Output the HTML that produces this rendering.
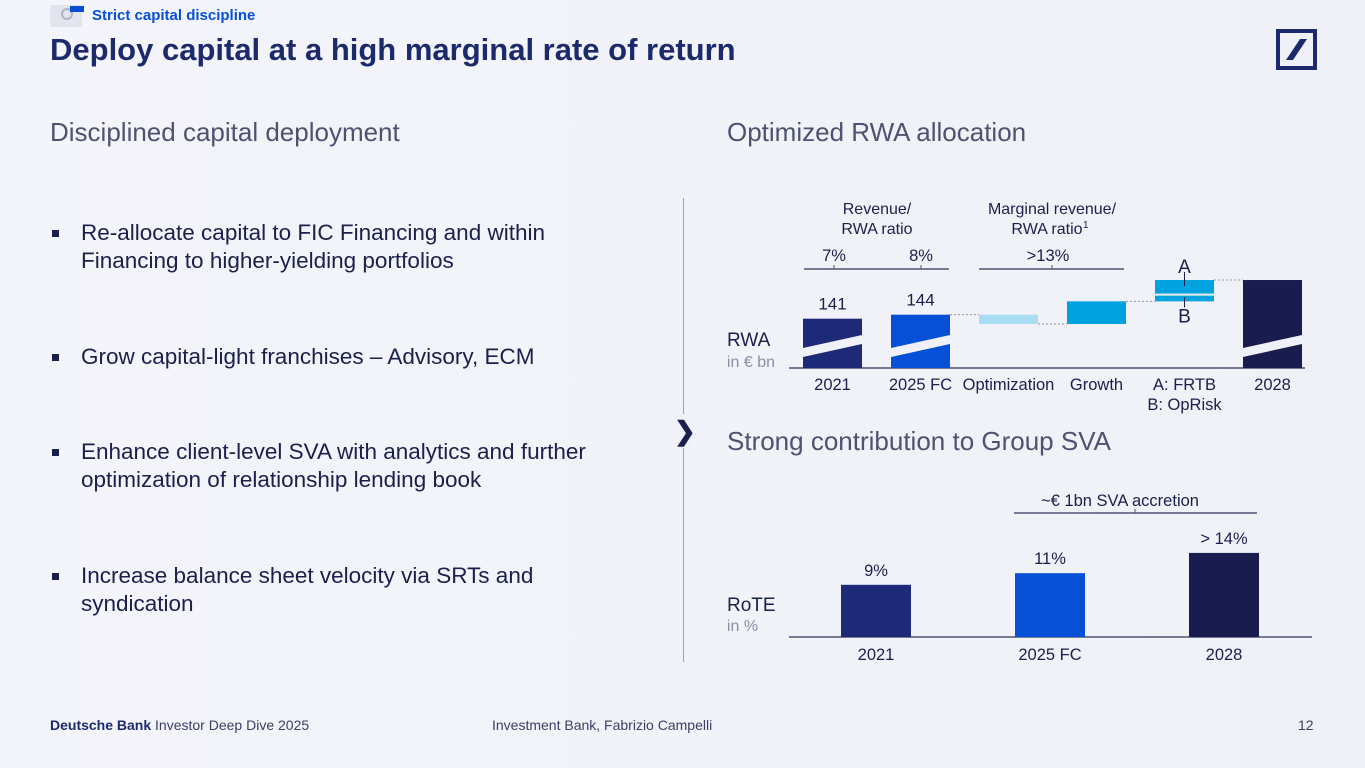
<!DOCTYPE html>
<html><head><meta charset="utf-8">
<style>
*{margin:0;padding:0;box-sizing:border-box}
body{width:1365px;height:768px;overflow:hidden;background:linear-gradient(90deg,#f4f5fa,#eff1f7);font-family:"Liberation Sans",sans-serif;color:#1b1f4b;position:relative}
.abs{position:absolute}
.bul{position:absolute;left:52px;font-size:22.5px;line-height:28px;color:#1b1f4b}
.bul .sq{position:absolute;left:0;top:11px;width:7px;height:7px;background:#1b1f4b}
.bul .t{position:absolute;left:29px;width:590px;white-space:nowrap}
.h2{position:absolute;font-size:26px;font-weight:300;color:#4d5270;white-space:nowrap}
</style></head><body>
<div class="abs" style="left:50px;top:5px;width:32px;height:22px;background:#e3e5ee"></div>
<div class="abs" style="left:61px;top:8px;width:12px;height:12px;border:2px solid #b0b4c4;border-radius:50%"></div>
<div class="abs" style="left:70px;top:6px;width:14px;height:6px;background:#0550d6"></div>
<div class="abs" style="left:92px;top:7px;font-size:15px;font-weight:bold;color:#0550d6">Strict capital discipline</div>
<div class="abs" style="left:50px;top:32px;font-size:31px;font-weight:bold;color:#1c2a6b;white-space:nowrap">Deploy capital at a high marginal rate of return</div>
<svg class="abs" style="left:1276px;top:29px" width="41" height="41"><rect x="2" y="2" width="37" height="37" fill="none" stroke="#1c2a6b" stroke-width="4"/><polygon points="10,31 17,31 31,10 24,10" fill="#1c2a6b"/></svg>

<div class="h2" style="left:50px;top:117px">Disciplined capital deployment</div>
<div class="h2" style="left:727px;top:117px">Optimized RWA allocation</div>
<div class="h2" style="left:727px;top:426px">Strong contribution to Group SVA</div>

<div class="bul" style="top:219px"><span class="sq"></span><div class="t">Re-allocate capital to FIC Financing and within<br>Financing to higher-yielding portfolios</div></div>
<div class="bul" style="top:343px"><span class="sq"></span><div class="t">Grow capital-light franchises – Advisory, ECM</div></div>
<div class="bul" style="top:438px"><span class="sq"></span><div class="t">Enhance client-level SVA with analytics and further<br>optimization of relationship lending book</div></div>
<div class="bul" style="top:562px"><span class="sq"></span><div class="t">Increase balance sheet velocity via SRTs and<br>syndication</div></div>

<div class="abs" style="left:683px;top:198px;width:1px;height:464px;background:#9ea2b6"></div>
<div class="abs" style="left:674px;top:414px;width:18px;height:34px;background:#f1f2f8;font-size:26px;font-weight:bold;color:#1b1f4b;text-align:center;line-height:34px">❯</div>

<svg id="chart" class="abs" style="left:0;top:0" width="1365" height="768" font-family="Liberation Sans, sans-serif"></svg>

<div class="abs" style="left:50px;top:717px;font-size:14px;color:#3a3f63;white-space:nowrap"><b style="color:#1c2a6b">Deutsche Bank</b> Investor Deep Dive 2025</div>
<div class="abs" style="left:492px;top:717px;font-size:14px;color:#3a3f63;white-space:nowrap">Investment Bank, Fabrizio Campelli</div>
<div class="abs" style="left:1298px;top:717px;font-size:14px;color:#3a3f63">12</div>

<script>
const rwaCats=["2021","2025 FC","Optimization","Growth","A: FRTB|B: OpRisk","2028"];
const rwaTotals=[141,144,null,null,null,170];
const rwaLabels=["141","144","","","",""];
const rwaDeltas=[null,null,-7,17,null,null];
const riskA=11, riskB=5;
const rwaColors=["#1e2a78","#0550d6","#a9ddf2","#00a3e0","#00a3e0","#181c4e"];
const roteCats=["2021","2025 FC","2028"];
const roteVals=[9,11,14.5];
const roteLabels=["9%","11%","> 14%"];
const roteColors=["#1e2a78","#0550d6","#181c4e"];

const svg=document.getElementById('chart');
const NS="http://www.w3.org/2000/svg";
function mk(tag,attrs,name){const e=document.createElementNS(NS,tag);for(const k in attrs)e.setAttribute(k,attrs[k]);


svg.appendChild(e);return e;}
function txt(x,y,s,name,size,fill,anchor){const t=mk('text',{x:x,y:y,'font-size':size||16,fill:fill||'#1b1f4b','text-anchor':anchor||'middle'},name);t.textContent=s;return t;}

// RWA chart
const base=368, bw=59;
const yR=v=>base-(v-104)*1.333;
const xR=i=>803+i*88;
mk('line',{x1:789,y1:base,x2:1305,y2:base,stroke:'#4d5270','stroke-width':1.5},'rwa-baseline');
let run=0;
rwaCats.forEach((c,i)=>{
  const x=xR(i);
  if(rwaTotals[i]!=null){
    const top=yR(rwaTotals[i]);
    mk('rect',{x:x,y:top,width:bw,height:base-top,fill:rwaColors[i]},'rwa-bar-'+i);
    mk('polygon',{points:`${x},${base-20} ${x+bw},${base-33} ${x+bw},${base-24} ${x},${base-11}`,fill:'#f0f1f7'},'rwa-break-'+i);
    if(rwaLabels[i])txt(x+bw/2,top-9,rwaLabels[i],'rwa-value-'+i,17);
    run=rwaTotals[i];
  } else if(rwaDeltas[i]!=null){
    const a=yR(run),b=yR(run+rwaDeltas[i]);
    mk('line',{x1:x-29,y1:a,x2:x,y2:a,stroke:'#9095a8','stroke-dasharray':'2,2'},'rwa-connector-'+i);
    mk('rect',{x:x,y:Math.min(a,b),width:bw,height:Math.abs(b-a),fill:rwaColors[i]},'rwa-bar-'+i);
    run+=rwaDeltas[i];
  } else {
    const a=yR(run),m=yR(run+riskB),t=yR(run+riskB+riskA);
    mk('line',{x1:x-29,y1:a,x2:x,y2:a,stroke:'#9095a8','stroke-dasharray':'2,2'},'rwa-connector-'+i);
    mk('rect',{x:x,y:t,width:bw,height:a-t,fill:rwaColors[i]},'rwa-bar-risk');
    mk('line',{x1:x,y1:m,x2:x+bw,y2:m,stroke:'#f0f1f7','stroke-width':2},'rwa-risk-divider');
    mk('line',{x1:x+bw/2,y1:t-8,x2:x+bw/2,y2:t+6,stroke:'#1b1f4b'},'rwa-a-tick');
    mk('line',{x1:x+bw/2,y1:a-4,x2:x+bw/2,y2:a+6,stroke:'#1b1f4b'},'rwa-b-tick');
    txt(x+bw/2,t-7,'A','rwa-a-label',19);
    txt(x+bw/2,a+21,'B','rwa-b-label',19);
    mk('line',{x1:x+bw,y1:t,x2:x+bw+29,y2:t,stroke:'#9095a8','stroke-dasharray':'2,2'},'rwa-connector-end');
    run+=riskA+riskB;
  }
  const parts=c.split('|');
  parts.forEach((p,j)=>txt(x+bw/2,390+j*20,p,'rwa-category-'+i,16.5));
});
txt(727,346,'RWA','rwa-axis-title',19,'#1b1f4b','start');
txt(727,367,'in € bn','rwa-axis-unit',16,'#8b8fa6','start');
// ratio brackets
txt(877,214,'Revenue/','ratio-title',16);txt(877,234,'RWA ratio','ratio-title',16);
txt(1052,214,'Marginal revenue/','marginal-title',16);txt(1047,234,'RWA ratio','marginal-title',16);
mk('text',{x:1083,y:228,'font-size':10,fill:'#1b1f4b'},'footnote-1').textContent='1';
mk('line',{x1:804,y1:269,x2:949,y2:269,stroke:'#4d5270','stroke-width':1.5},'ratio-bracket');
mk('line',{x1:834,y1:265,x2:834,y2:269,stroke:'#4d5270'},'ratio-tick-2021');
mk('line',{x1:921,y1:265,x2:921,y2:269,stroke:'#4d5270'},'ratio-tick-2025');
txt(834,261,'7%','ratio-2021',16.5);txt(921,261,'8%','ratio-2025',16.5);
mk('line',{x1:979,y1:269,x2:1124,y2:269,stroke:'#4d5270','stroke-width':1.5},'marginal-bracket');
mk('line',{x1:1052,y1:265,x2:1052,y2:269,stroke:'#4d5270'},'marginal-tick');
txt(1048,261,'>13%','marginal-ratio',16.5);

// RoTE chart
const rb=637, rw=70;
const yT=v=>rb-v*5.8;
const xT=i=>841+i*174;
mk('line',{x1:789,y1:rb,x2:1312,y2:rb,stroke:'#4d5270','stroke-width':1.5},'rote-baseline');
roteCats.forEach((c,i)=>{
  const x=xT(i),top=yT(roteVals[i]);
  mk('rect',{x:x,y:top,width:rw,height:rb-top,fill:roteColors[i]},'rote-bar-'+i);
  txt(x+rw/2,top-9,roteLabels[i],'rote-value-'+i,16.5);
  txt(x+rw/2,660,c,'rote-category-'+i,16.5);
});
txt(727,611,'RoTE','rote-axis-title',19,'#1b1f4b','start');
txt(727,631,'in %','rote-axis-unit',16,'#8b8fa6','start');
mk('line',{x1:1014,y1:513,x2:1257,y2:513,stroke:'#4d5270','stroke-width':1.5},'sva-bracket');
mk('line',{x1:1135,y1:509,x2:1135,y2:513,stroke:'#4d5270'},'sva-tick');
txt(1120,506,'~€ 1bn SVA accretion','sva-label',16.5);
</script>
</body></html>
